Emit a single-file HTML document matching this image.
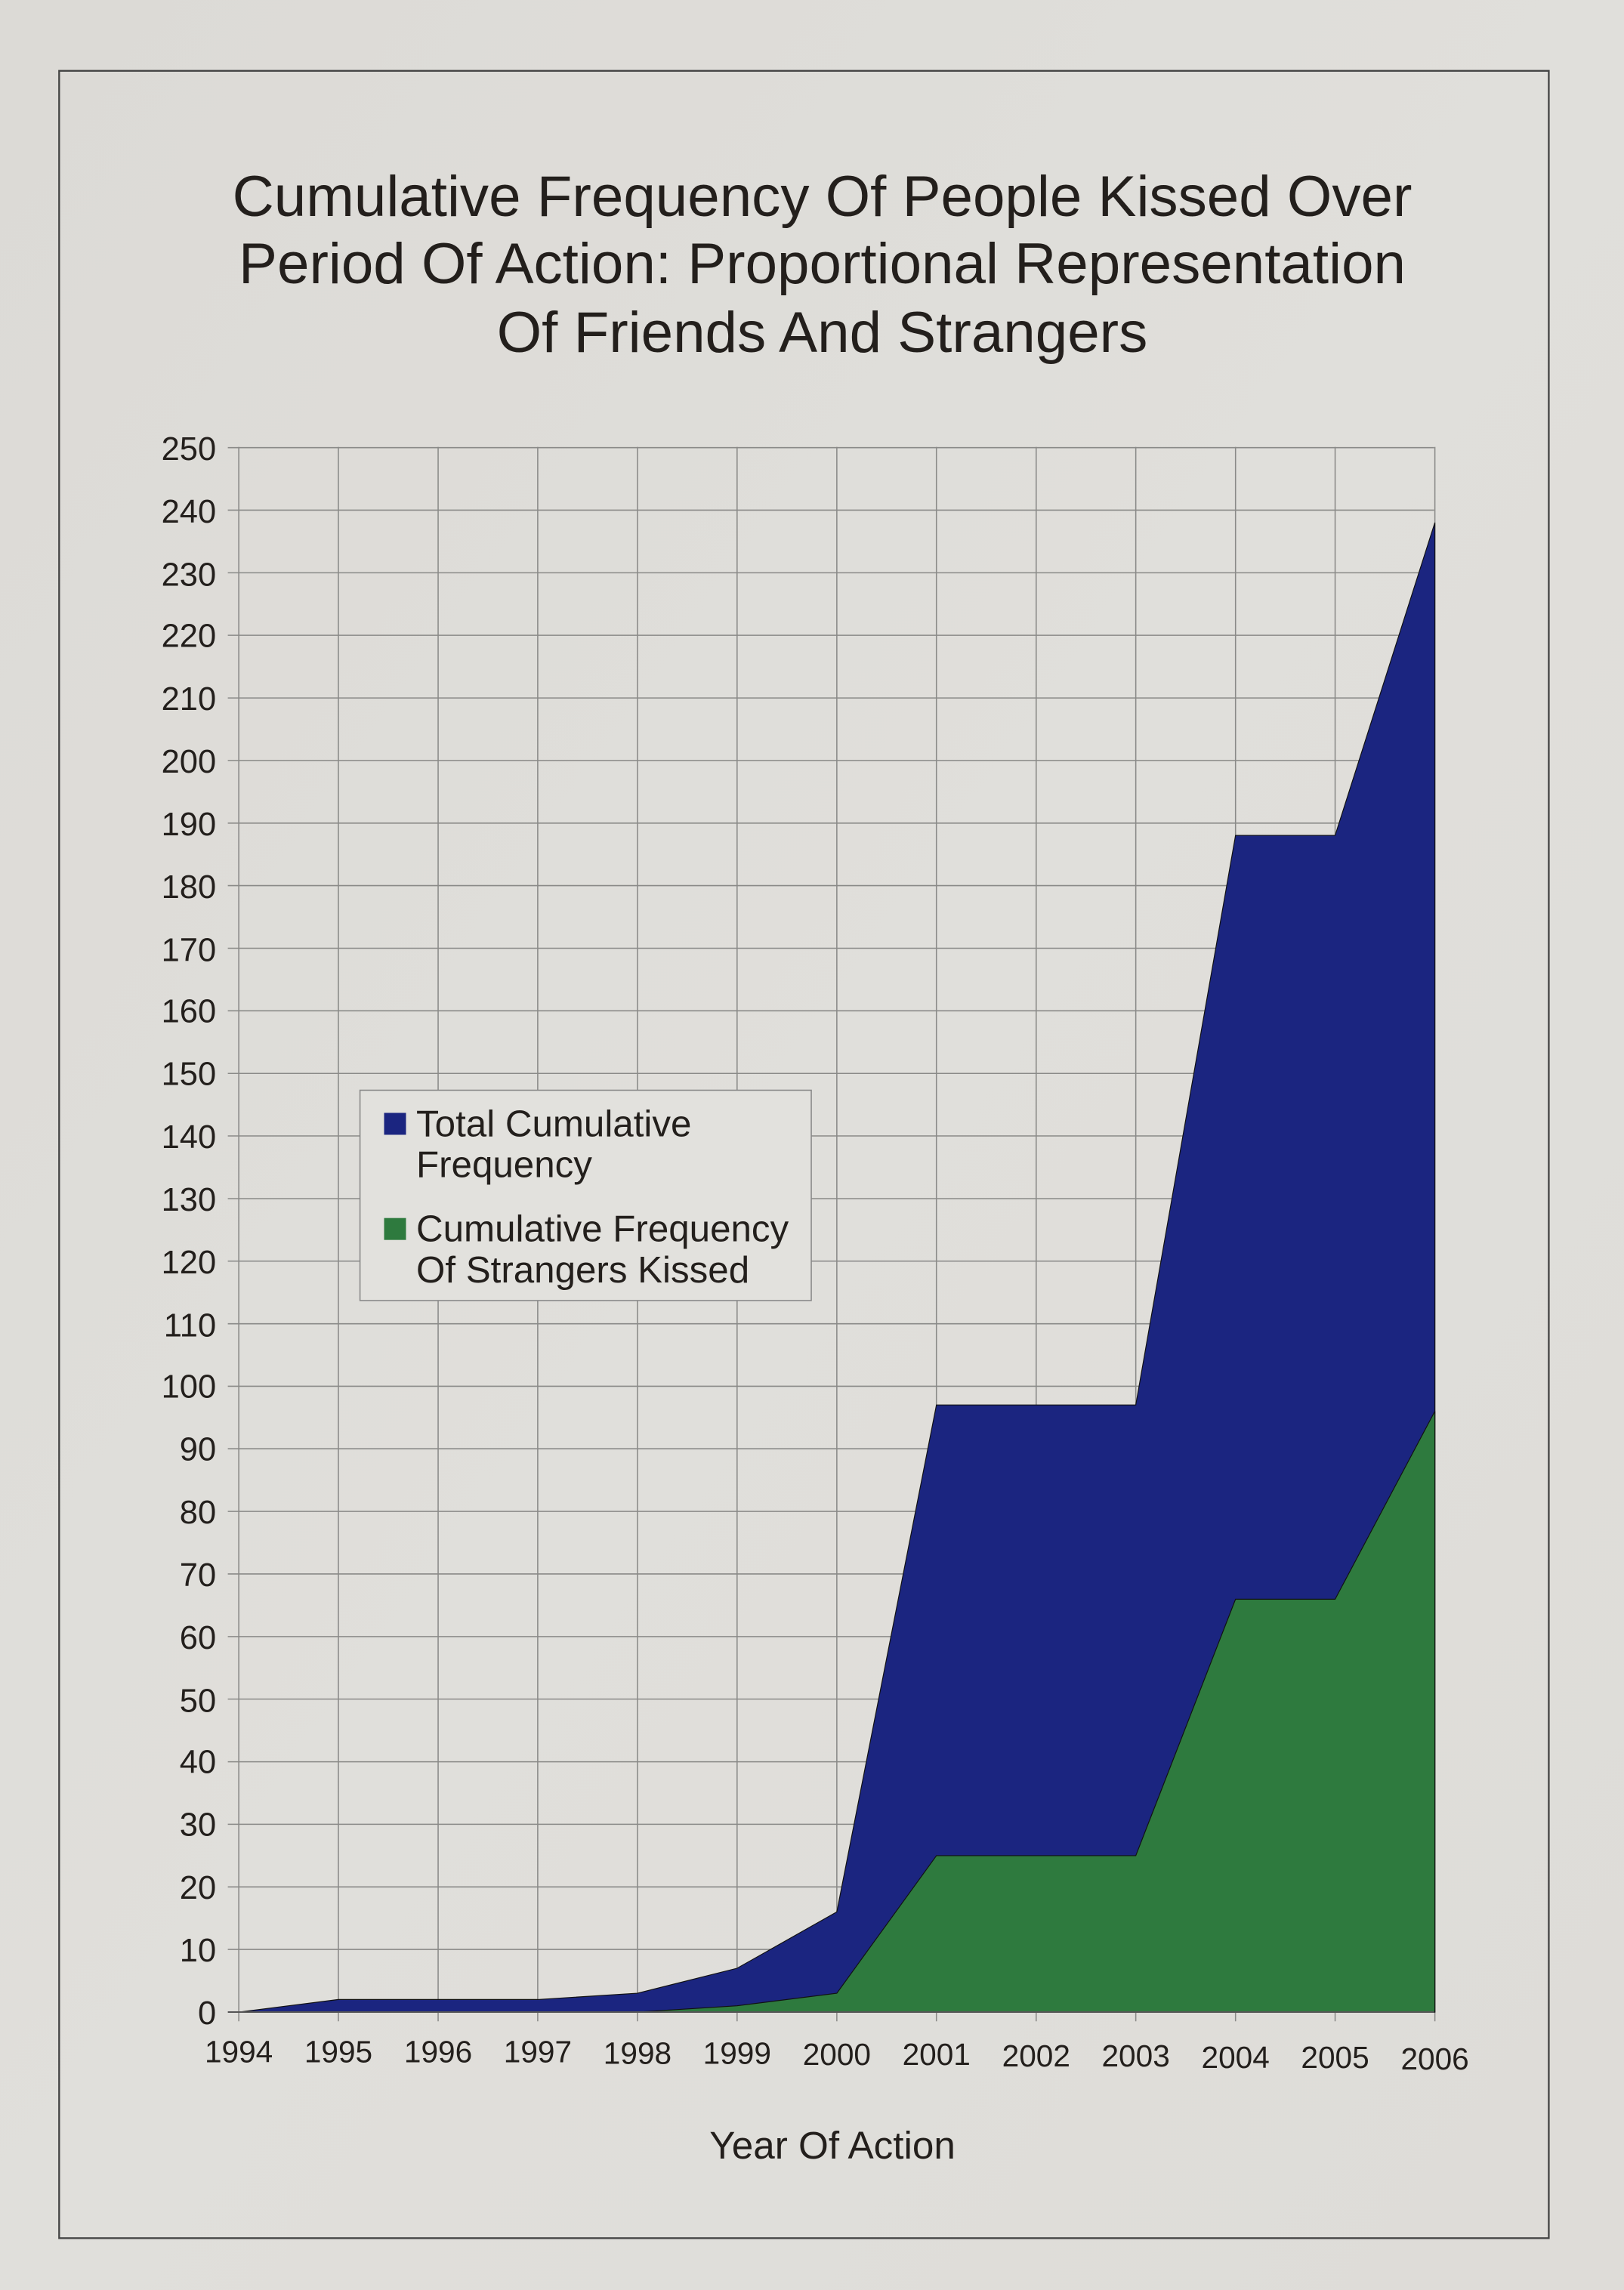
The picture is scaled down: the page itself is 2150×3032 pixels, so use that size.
<!DOCTYPE html>
<html><head><meta charset="utf-8"><style>
html,body{margin:0;padding:0;background:#dddbd7;}
svg{display:block;}
text{font-family:"Liberation Sans",sans-serif;fill:#231f1c;}
</style></head><body>
<svg width="2150" height="3032" viewBox="0 0 1112 1568" preserveAspectRatio="none" xmlns="http://www.w3.org/2000/svg">
<defs>
<linearGradient id="bg" x1="0" y1="0" x2="1" y2="1">
<stop offset="0" stop-color="#dcdad6"/><stop offset="0.5" stop-color="#e0dfdb"/><stop offset="1" stop-color="#dedcd8"/>
</linearGradient>
</defs>
<rect width="1112" height="1568" fill="url(#bg)"/>
<rect x="40.5" y="48.5" width="1020" height="1484" fill="none" stroke="#444" stroke-width="1.2"/>
<g font-size="39.5" text-anchor="middle">
<text x="563" y="148">Cumulative Frequency Of People Kissed Over</text>
<text x="563" y="194">Period Of Action: Proportional Representation</text>
<text x="563" y="241">Of Friends And Strangers</text>
</g>
<g stroke="#8a8a88" stroke-width="0.8" fill="none">
<path d="M156 306.5H982M156 349.3H982M156 392.2H982M156 435H982M156 477.9H982M156 520.7H982M156 563.6H982M156 606.4H982M156 649.3H982M156 692.1H982M156 735H982M156 777.8H982M156 820.7H982M156 863.5H982M156 906.4H982M156 949.2H982M156 992H982M156 1034.9H982M156 1077.7H982M156 1120.6H982M156 1163.4H982M156 1206.3H982M156 1249.1H982M156 1292H982M156 1334.8H982"/>
<path d="M163.5 306V1384M231.7 306V1384M300 306V1384M368.2 306V1384M436.5 306V1384M504.7 306V1384M573 306V1384M641.2 306V1384M709.5 306V1384M777.7 306V1384M846 306V1384M914.2 306V1384M982.5 306V1384"/>
</g>
<polygon fill="#1b2580" stroke="#111" stroke-width="0.6" points="163.5,1377.7 231.7,1369.1 300,1369.1 368.2,1369.1 436.5,1364.8 504.7,1347.7 573,1309.1 641.2,962 709.5,962 777.7,962 846,572 914.2,572 982.5,357.8 982.5,1377.7"/>
<polygon fill="#2e7a3e" stroke="#111" stroke-width="0.6" points="163.5,1377.7 436.5,1377.7 504.7,1373.4 573,1364.8 641.2,1270.6 709.5,1270.6 777.7,1270.6 846,1095 914.2,1095 982.5,966.3 982.5,1377.7"/>
<line x1="156" y1="1377.7" x2="982" y2="1377.7" stroke="#555" stroke-width="1"/>
<g font-size="22.5" text-anchor="end">
<text x="148" y="315">250</text><text x="148" y="358">240</text><text x="148" y="401">230</text><text x="148" y="443">220</text><text x="148" y="486">210</text><text x="148" y="529">200</text><text x="148" y="572">190</text><text x="148" y="615">180</text><text x="148" y="658">170</text><text x="148" y="700">160</text><text x="148" y="743">150</text><text x="148" y="786">140</text><text x="148" y="829">130</text><text x="148" y="872">120</text><text x="148" y="915">110</text><text x="148" y="957">100</text><text x="148" y="1000">90</text><text x="148" y="1043">80</text><text x="148" y="1086">70</text><text x="148" y="1129">60</text><text x="148" y="1172">50</text><text x="148" y="1214">40</text><text x="148" y="1257">30</text><text x="148" y="1300">20</text><text x="148" y="1343">10</text><text x="148" y="1386">0</text>
</g>
<g font-size="21" text-anchor="middle">
<text x="163.5" y="1412">1994</text><text x="231.7" y="1412">1995</text><text x="300" y="1412">1996</text><text x="368.2" y="1412">1997</text><text x="436.5" y="1413">1998</text><text x="504.7" y="1413">1999</text><text x="573" y="1414">2000</text><text x="641.2" y="1414">2001</text><text x="709.5" y="1415">2002</text><text x="777.7" y="1415">2003</text><text x="846" y="1416">2004</text><text x="914.2" y="1416">2005</text><text x="982.5" y="1417">2006</text>
</g>
<text x="570" y="1478" font-size="26.5" text-anchor="middle">Year Of Action</text>
<rect x="246.5" y="746.5" width="309" height="144" fill="#e2e1dd" stroke="#888" stroke-width="0.8"/>
<rect x="263" y="762" width="15" height="15" fill="#1b2580"/>
<rect x="263" y="834" width="15" height="15" fill="#2e7a3e"/>
<g font-size="25.5">
<text x="285" y="778">Total Cumulative</text>
<text x="285" y="806">Frequency</text>
<text x="285" y="850">Cumulative Frequency</text>
<text x="285" y="878">Of Strangers Kissed</text>
</g>
</svg>
</body></html>
